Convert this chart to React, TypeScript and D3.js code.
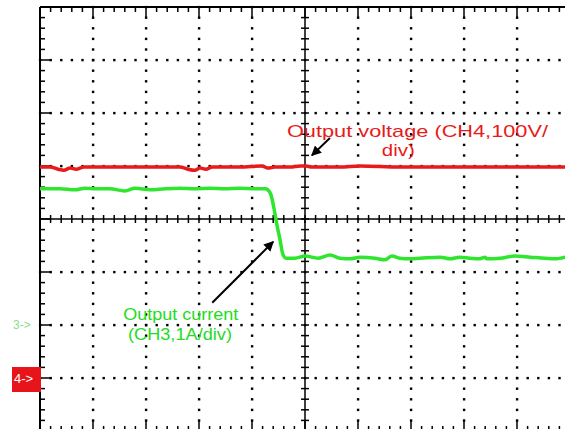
import * as d3 from "d3";

// time axis in divisions (10 div across the screen)
const voltT = [0, 0.19, 0.34, 0.45, 0.57, 0.68, 0.83, 1.13, 1.7, 2.08, 2.64, 2.79, 2.92, 3.02, 3.13, 3.25, 3.77, 4.19, 4.3, 4.43, 4.72, 4.91, 5.02, 5.13, 5.28, 5.66, 6.04, 6.79, 7.55, 8.3, 9.06, 9.91];
// CH4 output voltage, V
const voltV = [398, 398, 394, 392, 396, 394, 398, 398, 398, 398, 398, 394, 392, 396, 394, 398, 398, 400, 396, 398, 398, 400, 400, 398, 398, 398, 400, 398, 398, 398, 398, 398];

const currT = [0, 0.38, 0.66, 0.85, 1.04, 1.32, 1.6, 1.79, 2.08, 2.36, 2.64, 2.92, 3.21, 3.49, 3.77, 4.06, 4.25, 4.3, 4.36, 4.42, 4.47, 4.53, 4.58, 4.64, 4.81, 5.0, 5.25, 5.47, 5.66, 5.85, 6.04, 6.32, 6.51, 6.64, 6.79, 6.98, 7.17, 7.55, 7.74, 7.92, 8.11, 8.3, 8.4, 8.43, 8.68, 8.96, 9.25, 9.53, 9.72, 9.91];
// CH3 output current, A
const currI = [2.57, 2.57, 2.55, 2.58, 2.57, 2.57, 2.53, 2.58, 2.55, 2.57, 2.58, 2.57, 2.58, 2.57, 2.58, 2.57, 2.57, 2.55, 2.45, 2.17, 1.89, 1.6, 1.34, 1.26, 1.26, 1.3, 1.26, 1.32, 1.26, 1.25, 1.28, 1.26, 1.23, 1.3, 1.26, 1.25, 1.26, 1.28, 1.25, 1.28, 1.26, 1.25, 1.28, 1.25, 1.26, 1.3, 1.28, 1.26, 1.25, 1.28];

const voltLabel = ["Output voltage (CH4,100V/", "div)"];
const currLabel = ["Output current", "(CH3,1A/div)"];

const W = 565;
const H = 429;

export default function App() {
  // screen: 10 x 8 divisions
  const x = d3.scaleLinear().domain([0, 10]).range([40, 570]);
  const y = d3.scaleLinear().domain([-4, 4]).range([431, 7]);
  // channel offsets: CH4 ground at -3 div, CH3 ground at -2 div
  const yV = d3.scaleLinear().domain([-100, 700]).range([431, 7]);
  const yI = d3.scaleLinear().domain([-2, 6]).range([431, 7]);

  const minorX = d3.range(0, 50.5, 1).map((i) => i / 5);
  const minorY = d3.range(0, 40.5, 1).map((i) => i / 5 - 4);
  const majorX = d3.range(1, 10);
  const majorY = d3.range(-3, 4);

  const voltLine = d3
    .line<number>()
    .x((_, i) => x(voltT[i]))
    .y((d) => yV(d))
    .curve(d3.curveMonotoneX);
  const currLine = d3
    .line<number>()
    .x((_, i) => x(currT[i]))
    .y((d) => yI(d))
    .curve(d3.curveMonotoneX);

  const red = "#e81a1a";
  const green = "#2ee62e";

  return (
    <svg
      width={W}
      height={H}
      style={{ position: "absolute", left: 0, top: 0, background: "#fff" }}
      fontFamily="Liberation Sans, Arial, sans-serif"
    >
      <defs>
        <marker id="ah" viewBox="0 0 10 10" refX="9" refY="5" markerWidth="5" markerHeight="5" orient="auto">
          <path d="M0,0 L10,5 L0,10 z" fill="#000" />
        </marker>
      </defs>

      {/* dotted grid */}
      <g fill="#000">
        {majorX
          .filter((d) => d !== 5)
          .map((d) =>
            minorY.map((v) => <rect key={`v${d}_${v}`} x={x(d) - 1.1} y={y(v) - 1.1} width={2.4} height={2.4} />)
          )}
        {majorY
          .filter((d) => d !== 0)
          .map((d) =>
            minorX.map((t) => <rect key={`h${d}_${t}`} x={x(t) - 1.1} y={y(d) - 1.1} width={2.4} height={2.4} />)
          )}
      </g>

      {/* centre axes */}
      <g stroke="#000" strokeWidth={1.5}>
        <line x1={x(0)} x2={x(10)} y1={y(0)} y2={y(0)} />
        <line x1={x(5)} x2={x(5)} y1={y(-4)} y2={y(4)} />
        {minorX.map((t) => (
          <line key={`cx${t}`} x1={x(t)} x2={x(t)} y1={y(0) - 4} y2={y(0) + 4} />
        ))}
        {minorY.map((v) => (
          <line key={`cy${v}`} x1={x(5) - 4} x2={x(5) + 4} y1={y(v)} y2={y(v)} />
        ))}
      </g>

      {/* frame with ticks */}
      <g stroke="#000" strokeWidth={2}>
        <line x1={x(0)} x2={x(10)} y1={y(4)} y2={y(4)} />
        <line x1={x(0)} x2={x(0)} y1={y(4)} y2={y(-4)} />
        <line x1={x(0)} x2={x(10)} y1={y(-4)} y2={y(-4)} />
      </g>
      <g stroke="#000" strokeWidth={1.5}>
        {minorX.map((t) => {
          const len = Number.isInteger(t) ? 11 : 5;
          return (
            <g key={`tx${t}`}>
              <line x1={x(t)} x2={x(t)} y1={y(4)} y2={y(4) + len} />
              <line x1={x(t)} x2={x(t)} y1={y(-4)} y2={y(-4) - len} />
            </g>
          );
        })}
        {minorY.map((v) => {
          const len = Number.isInteger(v) ? 11 : 5;
          return <line key={`ty${v}`} x1={x(0)} x2={x(0) + len} y1={y(v)} y2={y(v)} />;
        })}
      </g>

      {/* traces */}
      <path d={voltLine(voltV) ?? ""} fill="none" stroke={red} strokeWidth={3.5} />
      <path d={currLine(currI) ?? ""} fill="none" stroke={green} strokeWidth={3.5} />

      {/* channel markers */}
      <text x={13} y={yI(0) + 4} fontSize={12} fill="#8fdc8f">
        3-&gt;
      </text>
      <rect x={12} y={yV(0) - 11} width={29} height={25} fill="#e8141b" />
      <text x={14} y={yV(0) + 5} fontSize={13} fill="#fff">
        4-&gt;
      </text>

      {/* annotations */}
      <text x={x(4.66)} y={y(1.55)} fontSize={17} fill={red} textLength={261} lengthAdjust="spacingAndGlyphs">
        {voltLabel[0]}
      </text>
      <text x={x(6.45)} y={y(1.19)} fontSize={17} fill={red} textLength={33} lengthAdjust="spacingAndGlyphs">
        {voltLabel[1]}
      </text>
      <line x1={x(5.47)} y1={y(1.53)} x2={x(5.13)} y2={y(1.2)} stroke="#000" strokeWidth={2} markerEnd="url(#ah)" />

      <text x={x(1.57)} y={y(-1.91)} fontSize={17} fill="#22dc22" textLength={115} lengthAdjust="spacingAndGlyphs">
        {currLabel[0]}
      </text>
      <text x={x(1.66)} y={y(-2.28)} fontSize={17} fill="#22dc22" textLength={104} lengthAdjust="spacingAndGlyphs">
        {currLabel[1]}
      </text>
      <line x1={x(3.25)} y1={y(-1.58)} x2={x(4.4)} y2={y(-0.43)} stroke="#000" strokeWidth={2} markerEnd="url(#ah)" />
    </svg>
  );
}
